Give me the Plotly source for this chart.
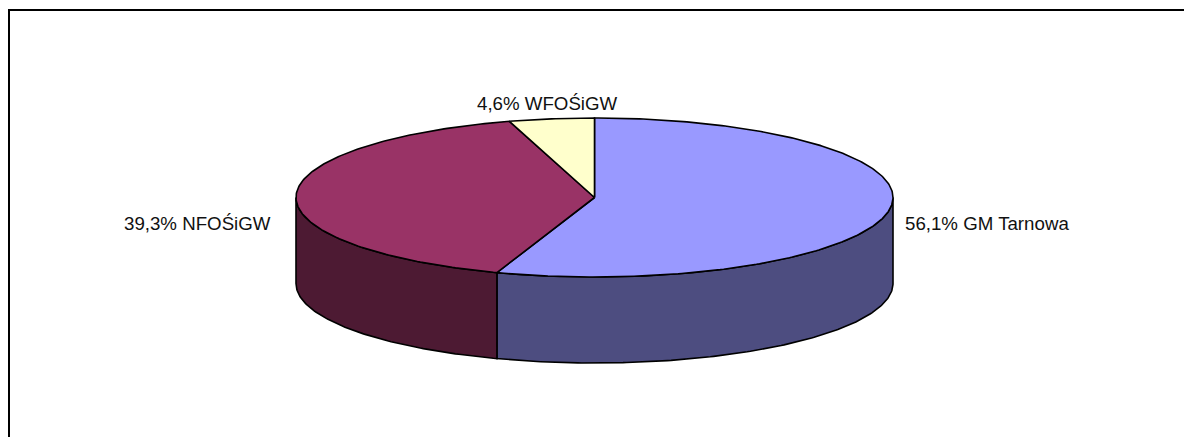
import numpy as np
import plotly.graph_objects as go

labels = ['GM Tarnowa', 'NFOŚiGW', 'WFOŚiGW']
printed_shares = ['56,1%', '39,3%', '4,6%']
# slice sizes as they are drawn in the picture, the seams don't quite follow the printed numbers
drawn_shares = [55.3, 40.1, 4.6]
top_colors = ['#9999FF', '#993366', '#FFFFCC']
side_colors = ['#4D4D80', '#4D1A33', '#80806A']

WIDTH, HEIGHT = 1184, 437
CX, CY = 594.5, 197.5
RX, RY = 298.5, 79.5
DEPTH = 86
FONT = dict(family='Liberation Sans', size=18.7, color='#111111')


def arc(start, end, drop=0):
    # angles in radians, clockwise from twelve o'clock
    n = max(2, int(abs(end - start) * 80))
    t = np.linspace(start, end, n)
    return CX + RX * np.sin(t), CY - RY * np.cos(t) + drop


def add_poly(fig, xs, ys, color):
    fig.add_trace(go.Scatter(x=xs, y=ys, mode='lines', fill='toself', fillcolor=color,
                             line=dict(color='#000000', width=1.6), hoverinfo='skip', showlegend=False))


fig = go.Figure()

edges = np.cumsum([0] + drawn_shares) / sum(drawn_shares) * 2 * np.pi

# sides first, only the part of a slice facing the viewer
for i in range(len(drawn_shares)):
    a0 = max(edges[i], np.pi / 2)
    a1 = min(edges[i + 1], 3 * np.pi / 2)
    if a1 <= a0:
        continue
    x1, y1 = arc(a0, a1)
    x2, y2 = arc(a1, a0, DEPTH)
    add_poly(fig, np.r_[x1, x2, x1[0]], np.r_[y1, y2, y1[0]], side_colors[i])

for i in range(len(drawn_shares)):
    x1, y1 = arc(edges[i], edges[i + 1])
    add_poly(fig, np.r_[CX, x1, CX], np.r_[CY, y1, CY], top_colors[i])

# chart frame, only left and top are inside the image
fig.add_trace(go.Scatter(x=[9, 9, WIDTH], y=[HEIGHT, 10, 10], mode='lines',
                         line=dict(color='#000000', width=2), hoverinfo='skip', showlegend=False))

label_pos = [(903, 223, 'left'), (273, 223, 'right'), (475, 103, 'left')]
for name, share, (x, y, anchor) in zip(labels, printed_shares, label_pos):
    fig.add_annotation(x=x, y=y, text=f'{share} {name}', showarrow=False, xanchor=anchor,
                       yanchor='middle', font=FONT)

fig.update_layout(
    width=WIDTH, height=HEIGHT,
    margin=dict(l=0, r=0, t=0, b=0),
    paper_bgcolor='#FFFFFF', plot_bgcolor='#FFFFFF',
    xaxis=dict(range=[0, WIDTH], visible=False, fixedrange=True),
    yaxis=dict(range=[HEIGHT, 0], visible=False, fixedrange=True),
)

fig.write_html('out.html', config=dict(displayModeBar=False),
               post_script="document.body.style.margin='0';")
